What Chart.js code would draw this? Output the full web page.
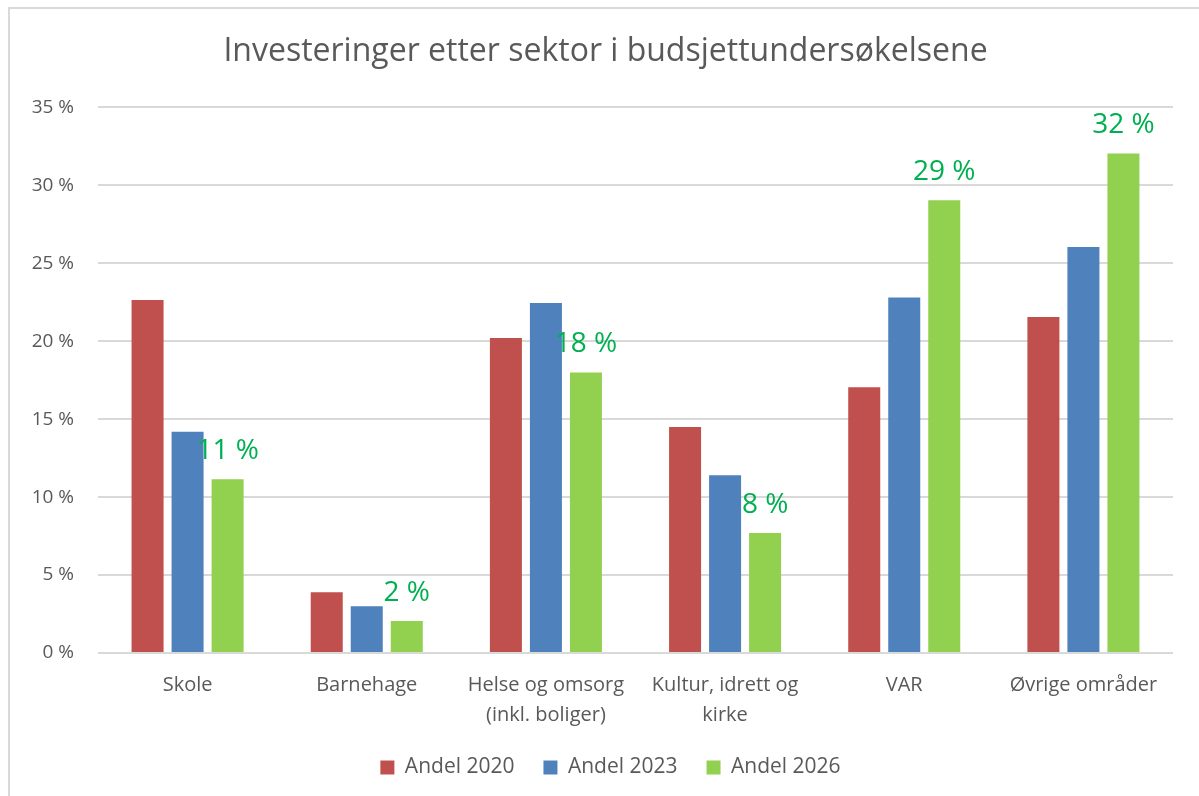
<!DOCTYPE html>
<html>
<head>
<meta charset="utf-8">
<script src="https://cdn.jsdelivr.net/npm/chart.js@4.4.1/dist/chart.umd.min.js"></script>
<style>
  html, body { margin: 0; padding: 0; background: #fff; }
  #frame { position: absolute; left: 8px; top: 7px; width: 1300px; height: 900px;
           border-left: 2px solid #d9d9d9; border-top: 2px solid #d9d9d9; }
  #wrap { position: absolute; left: 0; top: 0; width: 1199px; height: 796px; }
</style>
</head>
<body>
<div id="frame"></div>
<div id="wrap"><canvas id="investChart" width="1199" height="796"></canvas></div>
<script>
// ----------- DATA -----------
const categories = ["Skole", "Barnehage", ["Helse og omsorg", "(inkl. boliger)"], ["Kultur, idrett og", "kirke"], "VAR", "Øvrige områder"];
const andel2020 = [22.65, 3.9, 20.2, 14.5, 17.05, 21.55];
const andel2023 = [14.2, 3.0, 22.45, 11.4, 22.8, 26.05];
const andel2026 = [11.15, 2.05, 18.0, 7.7, 29.05, 32.05];
const yTicks = [0, 5, 10, 15, 20, 25, 30, 35];

const textGrey = "#595959";
const font = "'Open Sans', sans-serif";

// labels over the 2026 bars
const greenLabels = {
  id: "greenLabels",
  afterDatasetsDraw(chart) {
    const meta = chart.getDatasetMeta(2);
    const ctx = chart.ctx;
    ctx.save();
    ctx.fillStyle = "#00B050";
    ctx.font = "28px " + font;
    ctx.textAlign = "center";
    ctx.textBaseline = "middle";
    meta.data.forEach((bar, i) => {
      ctx.fillText(Math.round(andel2026[i]) + " %", bar.x, bar.y - 28);
    });
    ctx.restore();
  }
};

// title and legend sit a bit right of canvas centre in the original
const nudgeBoxes = {
  id: "nudgeBoxes",
  afterLayout(chart) {
    chart.titleBlock.left += 19;
    chart.titleBlock.right += 19;
    chart.legend.left += 24;
    chart.legend.right += 24;
  }
};

const ctx = document.getElementById("investChart").getContext("2d");
new Chart(ctx, {
  type: "bar",
  data: {
    labels: categories,
    datasets: [
      { label: "Andel 2020", data: andel2020, backgroundColor: "#C0504D" },
      { label: "Andel 2023", data: andel2023, backgroundColor: "#4F81BD" },
      { label: "Andel 2026", data: andel2026, backgroundColor: "#92D050" }
    ]
  },
  options: {
    responsive: false,
    animation: false,
    categoryPercentage: 0.67,
    barPercentage: 0.8,
    layout: { padding: { left: 0, right: 26, top: 0, bottom: 8 } },
    plugins: {
      title: {
        display: true,
        text: "Investeringer etter sektor i budsjettundersøkelsene",
        color: textGrey,
        font: { family: font, size: 32, weight: "normal" },
        padding: { top: 33, bottom: 36 }
      },
      legend: {
        position: "bottom",
        labels: {
          color: textGrey,
          font: { family: font, size: 21 },
          boxWidth: 14,
          boxHeight: 14,
          padding: 29
        }
      },
      tooltip: { enabled: false }
    },
    scales: {
      x: {
        grid: { display: false },
        border: { display: false },
        ticks: {
          color: textGrey,
          font: { family: font, size: 20, lineHeight: 1.5 },
          padding: 9,
          maxRotation: 0
        },
        afterFit(scale) { scale.height = 75; }
      },
      y: {
        min: 0,
        max: 35,
        afterBuildTicks(scale) { scale.ticks = yTicks.map(v => ({ value: v })); },
        grid: { color: "#d9d9d9", lineWidth: 2, drawTicks: false },
        border: { display: false },
        ticks: {
          color: textGrey,
          font: { family: font, size: 19 },
          padding: 24,
          callback: v => v + " %"
        },
        afterFit(scale) { scale.width = 98; }
      }
    }
  },
  plugins: [greenLabels, nudgeBoxes]
});
</script>
</body>
</html>
